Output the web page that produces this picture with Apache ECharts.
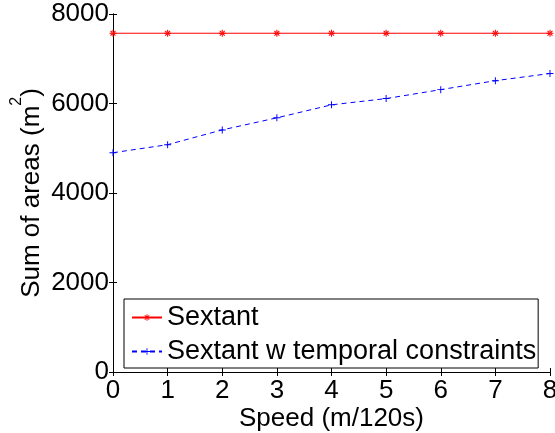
<!DOCTYPE html>
<html>
<head>
<meta charset="utf-8">
<script src="https://cdn.jsdelivr.net/npm/echarts@6/dist/echarts.min.js"></script>
<style>
  html, body { margin: 0; padding: 0; background: #fff; }
  #chart { width: 555px; height: 433px; }
</style>
</head>
<body>
<div id="chart"></div>
<script>
// Speed values on the x axis and the two measured curves
const speeds = [0, 1, 2, 3, 4, 5, 6, 7, 8];
const sextant = [7570, 7570, 7570, 7570, 7570, 7570, 7570, 7570, 7570];
const sextantTemporal = [4900, 5080, 5410, 5680, 5970, 6110, 6310, 6510, 6670];
const yTicks = [0, 2000, 4000, 6000, 8000];

const FONT = 'Liberation Sans, Arial, Helvetica, sans-serif';

// Marker shapes: asterisk (plus + cross) and a thin plus
const asterisk = 'path://M-0.6,-4h1.2v8h-1.2zM-4,-0.6h8v1.2h-8z' +
  'M-3.25,-2.4L2.4,3.25L3.25,2.4L-2.4,-3.25zM3.25,-2.4L-2.4,3.25L-3.25,2.4L2.4,-3.25z';
const plus = 'path://M-0.55,-4h1.1v8h-1.1zM-4,-0.55h8v1.1h-8z';

const chart = echarts.init(document.getElementById('chart'), null, { renderer: 'canvas' });

const boxLine = { show: true, lineStyle: { color: '#000', width: 1 } };
const innerTick = { show: true, inside: true, length: 4, lineStyle: { color: '#000', width: 1 } };

chart.setOption({
  animation: false,
  backgroundColor: '#fff',
  textStyle: { fontFamily: FONT },
  grid: { left: 113, right: 5, top: 14, bottom: 61, outerBoundsMode: 'none' },
  legend: {
    orient: 'vertical',
    left: 124,
    top: 299,
    padding: [5, 2, 3, 7],
    itemWidth: 30,
    itemHeight: 8,
    itemGap: 7,
    backgroundColor: '#fff',
    borderColor: '#000',
    borderWidth: 1,
    borderRadius: 0,
    textStyle: { fontFamily: FONT, fontSize: 27, color: '#000', lineHeight: 26 },
    data: ['Sextant', 'Sextant w temporal constraints']
  },
  xAxis: [
    {
      type: 'value',
      min: 0, max: 8, interval: 1,
      name: 'Speed (m/120s)',
      nameLocation: 'middle',
      nameGap: 34,
      nameMoveOverlap: false,
      nameTextStyle: { fontFamily: FONT, fontSize: 26, color: '#000' },
      axisLine: boxLine,
      axisTick: innerTick,
      splitLine: { show: false },
      axisLabel: {
        fontFamily: FONT, fontSize: 26, color: '#000', margin: 6,
        showMinLabel: true, showMaxLabel: true, hideOverlap: false,
        formatter: v => String(v)
      }
    },
    {
      type: 'value', position: 'top',
      min: 0, max: 8, interval: 1,
      axisLine: boxLine, axisTick: innerTick,
      axisLabel: { show: false }, splitLine: { show: false }
    }
  ],
  yAxis: [
    {
      type: 'value',
      min: yTicks[0], max: yTicks[yTicks.length - 1], interval: 2000,
      name: 'Sum of areas (m{sup|2})',
      nameLocation: 'middle',
      nameRotate: 90,
      nameGap: 59,
      nameMoveOverlap: false,
      nameTextStyle: {
        fontFamily: FONT, fontSize: 26, color: '#000', lineHeight: 45,
        rich: { sup: { fontFamily: FONT, fontSize: 16, lineHeight: 16, verticalAlign: 'top', color: '#000' } }
      },
      axisLine: boxLine,
      axisTick: innerTick,
      splitLine: { show: false },
      axisLabel: {
        fontFamily: FONT, fontSize: 26, color: '#000', margin: 4,
        showMinLabel: true, showMaxLabel: true,
        formatter: v => String(v)
      }
    },
    {
      type: 'value', position: 'right',
      min: yTicks[0], max: yTicks[yTicks.length - 1], interval: 2000,
      axisLine: boxLine, axisTick: innerTick,
      axisLabel: { show: false }, splitLine: { show: false }
    }
  ],
  series: [
    {
      name: 'Sextant',
      type: 'line',
      data: speeds.map((s, i) => [s, sextant[i]]),
      color: '#ff0000',
      lineStyle: { color: '#ff0000', width: 1 },
      symbol: asterisk,
      symbolSize: 7,
      itemStyle: { color: '#ff0000' },
      showAllSymbol: true
    },
    {
      name: 'Sextant w temporal constraints',
      type: 'line',
      data: speeds.map((s, i) => [s, sextantTemporal[i]]),
      color: '#0000ff',
      lineStyle: { color: '#0000ff', width: 1, type: [5, 4] },
      symbol: plus,
      symbolSize: 7,
      itemStyle: { color: '#0000ff' },
      showAllSymbol: true
    }
  ]
});
</script>
</body>
</html>
